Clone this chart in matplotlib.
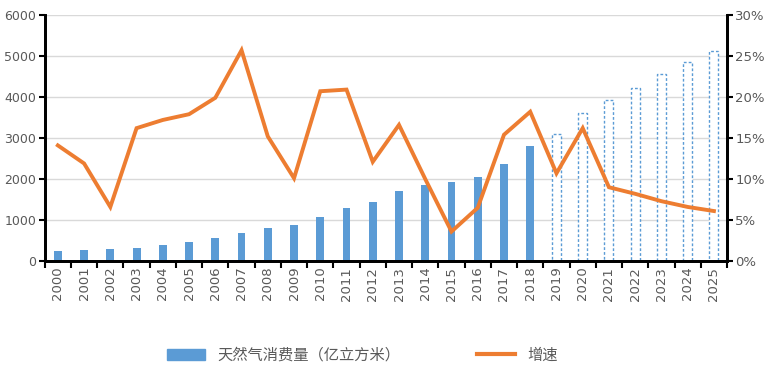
import numpy as np
import matplotlib.pyplot as plt
from matplotlib.patches import Patch
from matplotlib.lines import Line2D

plt.rcParams['font.family'] = ['Noto Sans CJK SC', 'DejaVu Sans']

# ======= Donnees =======
years = [str(y) for y in range(2000, 2026)]
consumption = [245, 268, 292, 331, 397, 462, 551, 697, 803, 892, 1079, 1298, 1452, 1705,
               1859, 1924, 2054, 2378, 2801, 3094, 3605, 3930, 4230, 4555, 4855, 5131]
growth = [14.1, 11.9, 6.6, 16.2, 17.2, 17.9, 19.9, 25.7, 15.2, 10.1, 20.7, 20.9, 12.1, 16.6,
          10.0, 3.6, 6.5, 15.4, 18.2, 10.7, 16.2, 9.0, 8.2, 7.3, 6.6, 6.1]
n_actual = 19  # 2000-2018 reels, 2019-2025 prevision

bar_color = '#5B9BD5'
line_color = '#ED7D31'
tick_color = '#595959'

fig = plt.figure(figsize=(7.71, 3.73), dpi=100)
ax = fig.add_axes([0.058, 0.300, 0.885, 0.660])
ax2 = ax.twinx()

x = np.arange(len(years))
ax.bar(x[:n_actual], consumption[:n_actual], width=0.3, color=bar_color, zorder=2)
ax.bar(x[n_actual:], consumption[n_actual:], width=0.34, facecolor='white',
       edgecolor=bar_color, linestyle=(0, (2, 1.5)), linewidth=1.0, zorder=2)

ax2.plot(x, np.array(growth) / 100, color=line_color, linewidth=2.8, solid_joinstyle='miter')

ax.set_xlim(-0.5, len(years) - 0.5)
ax.set_ylim(0, 6000)
ax.set_yticks(range(0, 6001, 1000))
ax2.set_ylim(0, 0.30)
ax2.set_yticks(np.arange(0, 0.301, 0.05))
ax2.set_yticklabels([f"{int(round(v * 100))}%" for v in np.arange(0, 0.301, 0.05)])

ax.grid(axis='y', color='#D9D9D9', linewidth=1.0, zorder=0)
ax.set_axisbelow(True)

# axe x : labels au centre, traits entre categories
ax.set_xticks(x)
ax.set_xticklabels(years, rotation=90, fontsize=9.5, color=tick_color, family='DejaVu Sans')
ax.tick_params(axis='x', which='major', length=0, pad=4)
ax.set_xticks(np.arange(-0.5, len(years)), minor=True)
ax.tick_params(axis='x', which='minor', length=5, width=1.5, color='black', direction='out')

ax.tick_params(axis='y', length=4, width=1.5, colors='black', labelcolor=tick_color,
               labelsize=9, pad=2)
ax2.tick_params(axis='y', length=4, width=1.5, colors='black', labelcolor=tick_color,
                labelsize=9.5, pad=2)
for lab in ax.get_yticklabels() + ax2.get_yticklabels():
    lab.set_family('DejaVu Sans')

for a in (ax, ax2):
    a.spines['top'].set_visible(False)
    a.spines['bottom'].set_linewidth(2)
    a.spines['left'].set_linewidth(2)
    a.spines['right'].set_linewidth(2)

handles = [Patch(facecolor=bar_color, edgecolor=bar_color),
           Line2D([0], [0], color=line_color, linewidth=3)]
fig.legend(handles, ['天然气消费量（亿立方米）', '增速'], loc='center',
           bbox_to_anchor=(0.47, 0.048), ncol=2, frameon=False, fontsize=11,
           columnspacing=5, handlelength=2.5, labelcolor=tick_color)

fig.savefig('out.png', dpi=100)
